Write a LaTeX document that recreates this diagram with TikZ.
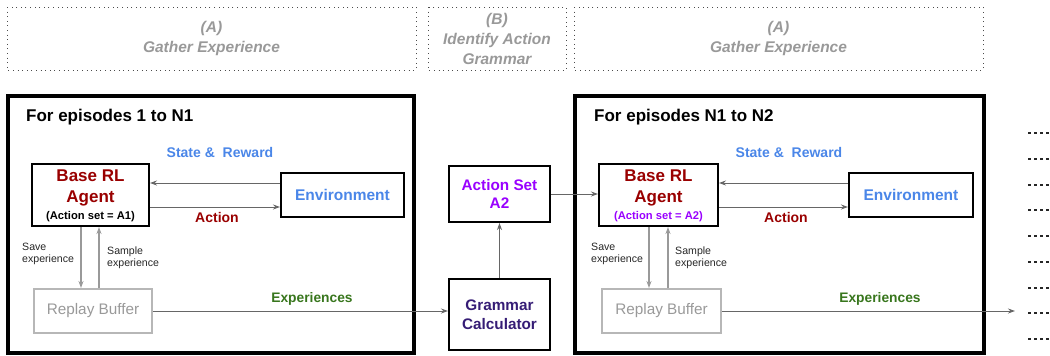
\documentclass[tikz,border=0pt]{standalone}
\usepackage{fontspec}
\setmainfont{Liberation Sans}
\usetikzlibrary{arrows.meta,calc}
\definecolor{lgray}{HTML}{999999}
\definecolor{bgray}{HTML}{B7B7B7}
\definecolor{agray}{HTML}{666666}
\definecolor{cblue}{HTML}{4A86E8}
\definecolor{dred}{HTML}{990000}
\definecolor{dgreen}{HTML}{38761D}
\definecolor{vpurple}{HTML}{9900FF}
\definecolor{dpurple}{HTML}{351C75}
\tikzset{
  x=1pt, y=-1pt,
  phase/.style={draw=black!70, line width=1pt, dash pattern=on 1pt off 3.6pt, inner sep=0pt},
  phasetxt/.style={text=lgray, font=\fontsize{15.5}{20}\selectfont\bfseries\itshape, align=center},
  mainbox/.style={draw=black, line width=3.5pt},
  blk/.style={draw=black, line width=2pt, inner sep=0pt, align=center},
  rbox/.style={draw=bgray, line width=2pt, inner sep=0pt, text=lgray, font=\fontsize{15.3}{18}\selectfont},
  arr/.style={draw=agray, line width=0.9pt, -{Stealth[length=7pt,width=5pt]}},
  larr/.style={draw=lgray, line width=1.2pt, -{Stealth[length=7pt,width=5pt]}},
  small/.style={font=\fontsize{10.6}{12.5}\selectfont, align=left, anchor=north west, inner sep=0pt, text=black!85},
  dotrow/.style={line width=2.6pt, dash pattern=on 2.6pt off 3.4pt, draw=black!85},
}
\begin{document}
\begin{tikzpicture}
\useasboundingbox (0,0) rectangle (1050,356);
% phase boxes
\draw[phase] (7,7) rectangle (416,70);
\draw[phase] (428,7) rectangle (566,70);
\draw[phase] (574,7) rectangle (983,70);
\node[phasetxt] (pa1) at (211.5,38.5) {(A)\\Gather Experience};
\node[phasetxt] (pb) at (497,38.5) {(B)\\Identify Action\\Grammar};
\node[phasetxt] (pa2) at (778.5,38.5) {(A)\\Gather Experience};
% main boxes
\draw[mainbox] (8,96) rectangle (414,353);
\draw[mainbox] (575,96) rectangle (984,353);
\node[anchor=west, inner sep=0pt, font=\fontsize{17}{20}\selectfont\bfseries] (t1) at (26,117) {For episodes 1 to N1};
\node[anchor=west, inner sep=0pt, font=\fontsize{17}{20}\selectfont\bfseries] (t2) at (594,117) {For episodes N1 to N2};

% --- episode block 1
\node[blk, minimum width=117pt, minimum height=62pt] (ag1) at (90.5,195) {};
\node[text=dred, font=\fontsize{17}{21}\selectfont\bfseries, align=center] (ag1t) at (90.5,187.5) {Base RL\\Agent};
\node[font=\fontsize{11.2}{13}\selectfont\bfseries, inner sep=0pt] (ag1s) at (90.5,217) {(Action set = A1)};
\node[blk, minimum width=123pt, minimum height=44pt, text=cblue, font=\fontsize{15.5}{18}\selectfont\bfseries] (env1) at (342.5,195) {Environment};
\node[rbox, minimum width=118pt, minimum height=44pt] (rep1) at (93,311) {Replay Buffer};
\draw[arr] ([yshift=12pt]env1.west) -- ([yshift=12pt]env1.west -| ag1.east);
\draw[arr] ([yshift=-12pt]ag1.east) -- ([yshift=-12pt]ag1.east -| env1.west);
\node[text=cblue, font=\fontsize{14}{16}\selectfont\bfseries] (sr1) at (220,152) {State \&\ \ Reward};
\node[text=dred, font=\fontsize{14}{16}\selectfont\bfseries] (ac1) at (217,217) {Action};
\draw[larr] ([xshift=-9.5pt]ag1.south) -- ([xshift=-9.5pt]ag1.south |- rep1.north);
\draw[larr] ([xshift=8.5pt]rep1.north -| ag1.south) -- ([xshift=8.5pt]ag1.south);
\node[small] (sv1) at (22,242.5) {Save\\experience};
\node[small] (sa1) at (107,246.5) {Sample\\experience};
\node[text=dgreen, font=\fontsize{13.8}{16}\selectfont\bfseries] (ex1) at (312,299) {Experiences};

% --- middle
\node[blk, minimum width=101pt, minimum height=71pt, text=dpurple, font=\fontsize{15.3}{18.5}\selectfont\bfseries] (gram) at (499.5,314.5) {Grammar\\Calculator};
\node[blk, minimum width=101pt, minimum height=56pt, text=vpurple, font=\fontsize{15.3}{18.5}\selectfont\bfseries] (aset) at (499.5,194) {Action Set\\A2};
\draw[arr] (rep1.east) -- (rep1.east -| gram.west);
\draw[arr] (gram.north) -- (aset.south);

% --- episode block 2
\node[blk, minimum width=119pt, minimum height=62pt] (ag2) at (658.5,195) {};
\node[text=dred, font=\fontsize{17}{21}\selectfont\bfseries, align=center] (ag2t) at (658.5,187.5) {Base RL\\Agent};
\node[text=vpurple, font=\fontsize{11.2}{13}\selectfont\bfseries, inner sep=0pt] (ag2s) at (658.5,217) {(Action set = A2)};
\node[blk, minimum width=124pt, minimum height=44pt, text=cblue, font=\fontsize{15.5}{18}\selectfont\bfseries] (env2) at (911,195) {Environment};
\node[rbox, minimum width=119pt, minimum height=44pt] (rep2) at (661.5,311) {Replay Buffer};
\draw[arr] (aset.east) -- (aset.east -| ag2.west);
\draw[arr] ([yshift=12pt]env2.west) -- ([yshift=12pt]env2.west -| ag2.east);
\draw[arr] ([yshift=-12pt]ag2.east) -- ([yshift=-12pt]ag2.east -| env2.west);
\node[text=cblue, font=\fontsize{14}{16}\selectfont\bfseries] (sr2) at (789,152) {State \&\ \ Reward};
\node[text=dred, font=\fontsize{14}{16}\selectfont\bfseries] (ac2) at (786,217) {Action};
\draw[larr] ([xshift=-9.5pt]ag2.south) -- ([xshift=-9.5pt]ag2.south |- rep2.north);
\draw[larr] ([xshift=9.5pt]rep2.north -| ag2.south) -- ([xshift=9.5pt]ag2.south);
\node[small] (sv2) at (591,242.5) {Save\\experience};
\node[small] (sa2) at (675,246.5) {Sample\\experience};
\node[text=dgreen, font=\fontsize{13.8}{16}\selectfont\bfseries] (ex2) at (880,299) {Experiences};
\coordinate (out) at (1015,311);
\draw[arr] (rep2.east) -- (rep2.east -| out);

% dots
\foreach \yy in {133,159,185,210,236,262,288,313,339}
  \draw[dotrow] (1028,\yy) -- (1052,\yy);
\end{tikzpicture}
\end{document}
